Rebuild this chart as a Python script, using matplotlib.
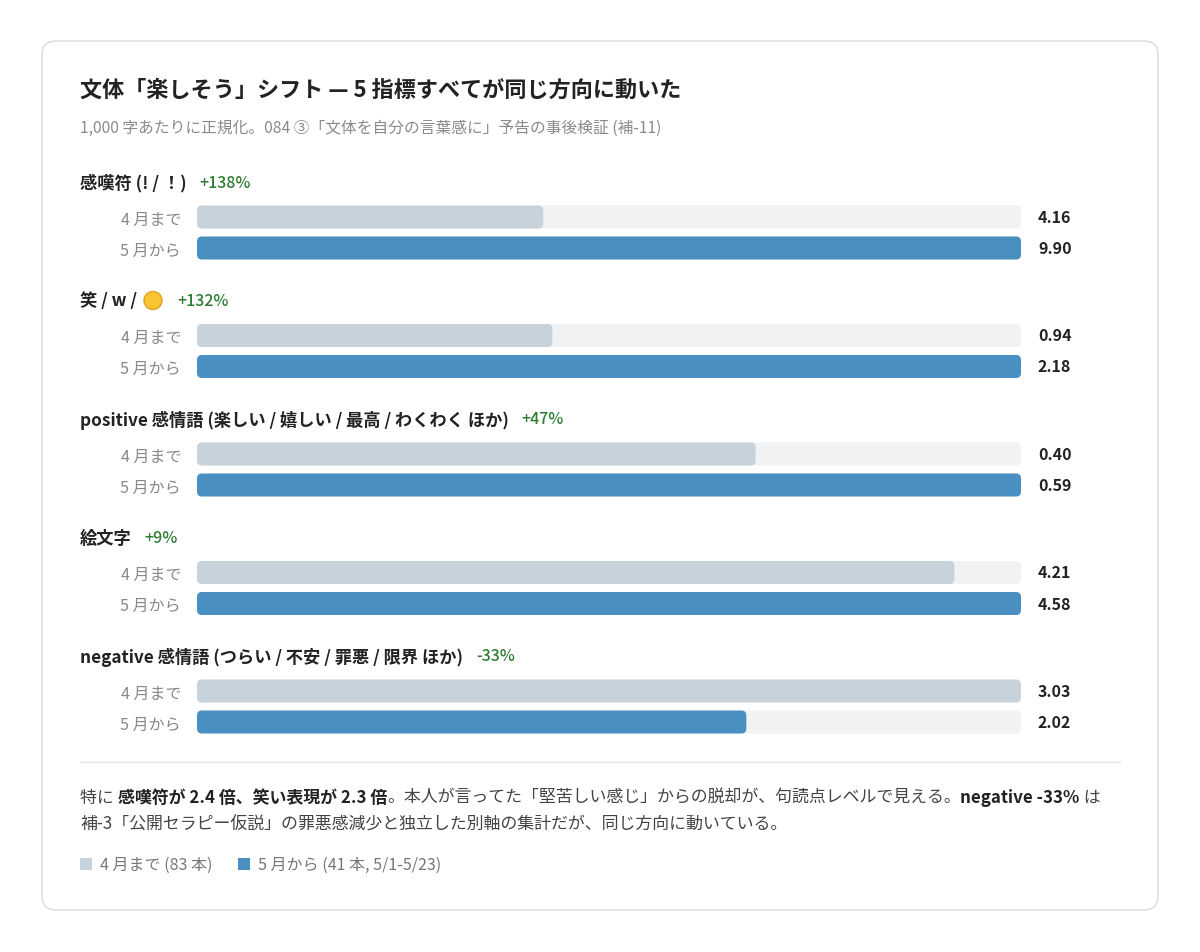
import matplotlib
matplotlib.use('Agg')
import matplotlib.pyplot as plt
from matplotlib.patches import FancyBboxPatch, Rectangle, Circle

plt.rcParams['font.family'] = ['Noto Sans CJK JP', 'DejaVu Sans']

# ---------------- data ----------------
title = "文体「楽しそう」シフト — 5 指標すべてが同じ方向に動いた"
subtitle = "1,000 字あたりに正規化。084 ③「文体を自分の言葉感に」予告の事後検証 (補-11)"
groups = ["感嘆符 (! / ！)", "笑 / w /",
          "positive 感情語 (楽しい / 嬉しい / 最高 / わくわく ほか)",
          "絵文字",
          "negative 感情語 (つらい / 不安 / 罪悪 / 限界 ほか)"]
changes = ["+138%", "+132%", "+47%", "+9%", "-33%"]
series_names = ["4 月まで", "5 月から"]
before = [4.16, 0.94, 0.40, 4.21, 3.03]
after = [9.90, 2.18, 0.59, 4.58, 2.02]
legend_labels = ["4 月まで (83 本)", "5 月から (41 本, 5/1-5/23)"]
footer_line1 = [("特に ", False), ("感嘆符が 2.4 倍、笑い表現が 2.3 倍", True),
                ("。本人が言ってた「堅苦しい感じ」からの脱却が、句読点レベルで見える。", False),
                ("negative -33%", True), (" は", False)]
footer_line2 = [("補-3「公開セラピー仮説」の罪悪感減少と独立した別軸の集計だが、同じ方向に動いている。", False)]

# ---------------- style ----------------
C_BEFORE = "#c8d2db"
C_AFTER = "#4a8fc2"
C_TRACK = "#f1f2f4"
C_GREEN = "#2e7d32"
C_DARK = "#222222"
C_GRAY = "#888888"

W, H = 1200, 953
fig = plt.figure(figsize=(W / 100, H / 100), dpi=100)
fig.patch.set_facecolor("white")

bg = fig.add_axes([0, 0, 1, 1], zorder=0)
bg.set_xlim(0, W)
bg.set_ylim(H, 0)
bg.axis("off")

card = FancyBboxPatch((42, 42), 1116, 869, boxstyle="round,pad=0,rounding_size=14",
                      fc="white", ec="#dadada", lw=1.0)
bg.add_patch(card)

fig.canvas.draw()
renderer = fig.canvas.get_renderer()


def draw_runs(x, y, parts, **common):
    for s, kw in parts:
        props = dict(common)
        props.update(kw)
        t = bg.text(x, y, s, va="center", ha="left", **props)
        x += t.get_window_extent(renderer).width
    return x


bg.text(80, 90, title, fontsize=15.9, fontweight="bold", color=C_DARK, va="center", ha="left")
bg.text(80, 128, subtitle, fontsize=11.3, color="#8a8a8a", va="center", ha="left")

track_left, track_w = 197, 824
r_px = 5
for i, g in enumerate(groups):
    ly = 183 + i * 118.5
    xe = draw_runs(80, ly, [(g, dict(fontweight="bold"))], fontsize=12.4, color=C_DARK)
    if i == 1:
        cx = xe + 16
        bg.add_patch(Circle((cx, ly), 9, fc="#f7c531", ec="#e0a020", lw=1))
        xe = cx + 9 + 2
    bg.text(xe + 13, ly, changes[i], fontsize=11.5, fontweight="medium", color=C_GREEN,
            va="center", ha="left")

    cy = ly + 50.5
    ax = fig.add_axes([track_left / W, 1 - (cy + 40) / H, track_w / W, 80 / H], zorder=1)
    ax.set_facecolor("none")
    vmax = max(before[i], after[i])
    ys = [-15.5, 15.5]
    vals = [before[i], after[i]]
    tr = ax.barh(ys, [vmax, vmax], height=23, color=C_TRACK)
    bars = ax.barh(ys, vals, height=23, color=[C_BEFORE, C_AFTER])
    ax.set_xlim(0, vmax)
    ax.set_ylim(40, -40)
    rx = r_px * vmax / track_w
    for cont in (tr, bars):
        for p in cont.patches:
            fb = FancyBboxPatch((p.get_x(), p.get_y()), p.get_width(), p.get_height(),
                                boxstyle=f"round,pad=0,rounding_size={rx}",
                                mutation_aspect=r_px / rx,
                                fc=p.get_facecolor(), ec="none")
            ax.add_patch(fb)
            p.remove()
    for yv, v in zip(ys, vals):
        ax.annotate(f"{v:.2f}", (vmax, yv), xytext=(12.2, 0), textcoords="offset points",
                    va="center", ha="left", fontsize=11.5, fontweight="bold", color=C_DARK,
                    annotation_clip=False)
    ax.set_yticks(ys, series_names)
    ax.tick_params(axis="y", length=0, pad=11.5, labelsize=11.5, labelcolor=C_GRAY)
    ax.set_xticks([])
    for s in ax.spines.values():
        s.set_visible(False)

bg.plot([80, 1120], [763, 763], color="#e6e6e6", lw=1)

draw_runs(80, 798, [(s, dict(fontweight="bold", color=C_DARK) if b else dict(color="#444444"))
                    for s, b in footer_line1], fontsize=12.2)
draw_runs(80, 825, [(s, dict(fontweight="bold", color=C_DARK) if b else dict(color="#444444"))
                    for s, b in footer_line2], fontsize=12.2)

bg.add_patch(Rectangle((80, 859), 12, 12, fc=C_BEFORE, ec="none"))
bg.text(100, 865, legend_labels[0], fontsize=11.5, color="#777777", va="center", ha="left")
bg.add_patch(Rectangle((238, 859), 12, 12, fc=C_AFTER, ec="none"))
bg.text(258, 865, legend_labels[1], fontsize=11.5, color="#777777", va="center", ha="left")

fig.savefig("out.png", dpi=100, facecolor="white")
